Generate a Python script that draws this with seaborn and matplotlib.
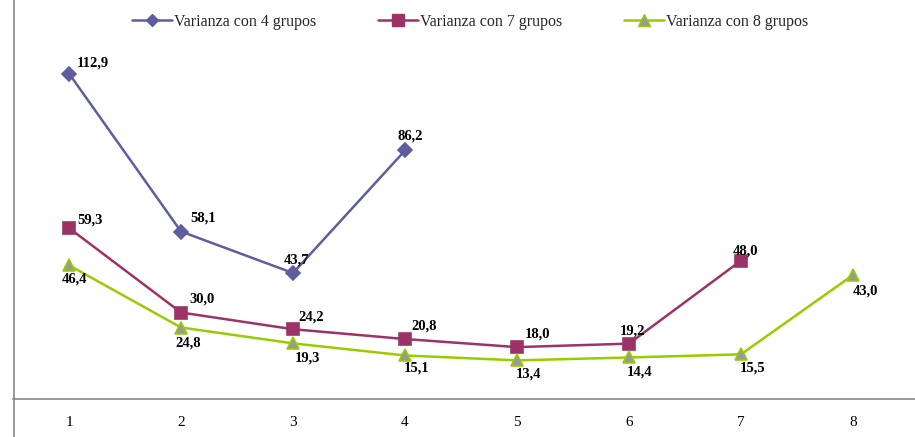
import matplotlib
matplotlib.use("Agg")
import matplotlib.pyplot as plt
from matplotlib.lines import Line2D
import seaborn as sns
import pandas as pd

# Data
grupos = [1, 2, 3, 4, 5, 6, 7, 8]
var_4 = [112.9, 58.1, 43.7, 86.2]
var_7 = [59.3, 30.0, 24.2, 20.8, 18.0, 19.2, 48.0]
var_8 = [46.4, 24.8, 19.3, 15.1, 13.4, 14.4, 15.5, 43.0]
series_names = ["Varianza con 4 grupos", "Varianza con 7 grupos", "Varianza con 8 grupos"]

df = pd.concat([
    pd.DataFrame({"grupo": grupos[:len(var_4)], "valor": var_4, "serie": series_names[0]}),
    pd.DataFrame({"grupo": grupos[:len(var_7)], "valor": var_7, "serie": series_names[1]}),
    pd.DataFrame({"grupo": grupos[:len(var_8)], "valor": var_8, "serie": series_names[2]}),
], ignore_index=True)

sns.set_theme(style="white")
plt.rcParams["font.family"] = ["Liberation Serif", "DejaVu Serif"]

line_colors = {series_names[0]: "#5E5E9E", series_names[1]: "#9B3366", series_names[2]: "#99CC00"}
marker_face = {series_names[0]: "#5E5E9E", series_names[1]: "#9B3366", series_names[2]: "#999999"}
marker_edge = {series_names[0]: "#5E5E9E", series_names[1]: "#9B3366", series_names[2]: "#99CC00"}
markers = {series_names[0]: "D", series_names[1]: "s", series_names[2]: "^"}
msize = {series_names[0]: 7, series_names[1]: 9, series_names[2]: 9}

W, H = 915, 437
fig = plt.figure(figsize=(W / 100, H / 100), dpi=100)
ax = fig.add_axes([13 / W, 38 / H, (W - 13) / W, (H - 38) / H])

for name in series_names:
    sub = df[df["serie"] == name]
    sns.lineplot(data=sub, x="grupo", y="valor", ax=ax, color=line_colors[name],
                 linewidth=1.8, marker=markers[name], markersize=msize[name],
                 markerfacecolor=marker_face[name], markeredgecolor=marker_edge[name],
                 markeredgewidth=1.2, legend=False)

# Label offsets in pixels (dx from point to label's left edge, dy to label centre)
off_4 = [(8, 10), (9, 13), (-9, 13), (-7, 14)]
off_7 = [(8, 8), (8, 13), (5, 12), (6, 13), (8, 13), (-9, 13), (-8, 10)]
off_8 = [(-7, -14), (-6, -16), (2, -15), (-1, -13), (-1, -14), (-2, -15), (-1, -14), (0, -16)]

for vals, offs in [(var_4, off_4), (var_7, off_7), (var_8, off_8)]:
    for x, v, (dx, dy) in zip(grupos, vals, offs):
        ax.annotate(f"{v:.1f}".replace(".", ","), (x, v), xytext=(dx, dy),
                    textcoords="offset pixels", ha="left", va="center",
                    fontsize=10.5, fontweight="bold", color="black")

ax.set_xlim(0.5, 8.5 + 6 / 112)
ax.set_ylim(0, 138.4)
ax.set_xticks(grupos)
ax.set_xticklabels([str(g) for g in grupos], fontsize=11)
ax.tick_params(axis="x", length=0, pad=12, colors="black")
ax.set_yticks([])
ax.set_xlabel("")
ax.set_ylabel("")
for s in ["top", "right", "left"]:
    ax.spines[s].set_visible(False)
ax.spines["bottom"].set_color("#888888")
ax.spines["bottom"].set_linewidth(1.2)

# Left frame line running the full height
fig.add_artist(Line2D([13.5 / W, 13.5 / W], [0, 1], transform=fig.transFigure,
                      color="#888888", linewidth=1.2))

handles = [Line2D([], [], color=line_colors[n], marker=markers[n],
                  markersize=msize[n] - 1, markerfacecolor=marker_face[n],
                  markeredgecolor=marker_edge[n], linewidth=1.8) for n in series_names]
ax.legend(handles, series_names, loc="upper left",
          bbox_to_anchor=((132 - 13) / (W - 13), 1 - 14 / (H - 38)),
          ncol=3, frameon=False, fontsize=11.5, handlelength=2.5, handletextpad=0.1,
          columnspacing=3.9, borderaxespad=0, borderpad=0)

fig.savefig("out.png", dpi=100)
